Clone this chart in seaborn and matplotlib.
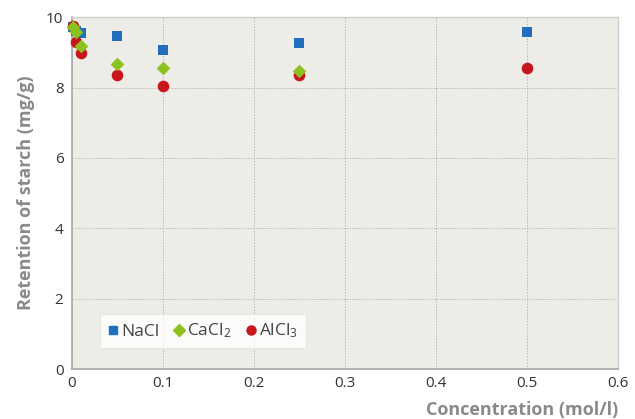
import numpy as np
import pandas as pd
import matplotlib
matplotlib.use("Agg")
import matplotlib.pyplot as plt
import seaborn as sns
from matplotlib.lines import Line2D

conc = [0.001, 0.005, 0.01, 0.05, 0.1, 0.25, 0.5]
nacl = [9.72, 9.62, 9.55, 9.47, 9.08, 9.28, 9.58]
cacl2 = [9.72, 9.58, 9.18, 8.66, 8.55, 8.47, np.nan]
alcl3 = [9.76, 9.29, 8.97, 8.36, 8.05, 8.36, 8.57]
series_names = ["NaCl", "CaCl2", "AlCl3"]
legend_labels = ["NaCl", r"CaCl$\mathregular{_2}$", r"AlCl$\mathregular{_3}$"]
xticks = [0, 0.1, 0.2, 0.3, 0.4, 0.5, 0.6]
xticklabels = ["0", "0.1", "0.2", "0.3", "0.4", "0.5", "0.6"]
yticks = [0, 2, 4, 6, 8, 10]

colors = {"NaCl": "#1f6fbd", "CaCl2": "#8cc21f", "AlCl3": "#c8161d"}
markers = {"NaCl": "s", "CaCl2": "D", "AlCl3": "o"}
sizes = {"NaCl": 55, "CaCl2": 48, "AlCl3": 70}

df = pd.DataFrame({
    "conc": conc * 3,
    "value": nacl + cacl2 + alcl3,
    "salt": ["NaCl"] * len(conc) + ["CaCl2"] * len(conc) + ["AlCl3"] * len(conc),
})

sns.set_theme(style="white")
plt.rcParams["font.family"] = ["Open Sans", "DejaVu Sans"]

fig = plt.figure(figsize=(6.35, 4.19), dpi=100)
ax = fig.add_axes([0.113, 0.119, 0.86, 0.84])
ax.set_facecolor("#eeece7")

for name in ["NaCl", "AlCl3", "CaCl2"]:
    sub = df[df["salt"] == name].dropna()
    sns.scatterplot(data=sub, x="conc", y="value", ax=ax, color=colors[name],
                    marker=markers[name], s=sizes[name], linewidth=0,
                    clip_on=False, zorder=3, legend=False)

ax.set_xlim(0, 0.6)
ax.set_ylim(0, 10)
ax.set_xticks(xticks)
ax.set_xticklabels(xticklabels)
ax.set_yticks(yticks)
ax.grid(True, color="#b8b8b8", linestyle=(0, (1.5, 1.5)), linewidth=0.7)
ax.set_axisbelow(True)
for s in ["left", "bottom"]:
    ax.spines[s].set_color("#a8a8a8")
    ax.spines[s].set_linewidth(1.2)
for s in ["top", "right"]:
    ax.spines[s].set_color("#cfcfcf")
    ax.spines[s].set_linewidth(1.0)
ax.tick_params(axis="both", colors="#a8a8a8", labelcolor="#333333",
               labelsize=11, length=3, direction="out", width=1)
ax.tick_params(axis="x", pad=2)
ax.tick_params(axis="y", pad=3)

ax.set_xlabel("Concentration (mol/l)", fontsize=13, color="#8a8a8a",
              fontweight="bold")
ax.xaxis.set_label_coords(1.0, -0.115)
ax.xaxis.label.set_horizontalalignment("right")
ax.xaxis.label.set_verticalalignment("center")
ax.set_ylabel("Retention of starch (mg/g)", fontsize=13, color="#8a8a8a",
              fontweight="bold", labelpad=8)

handles = [Line2D([], [], linestyle="none", marker=markers[n], color=colors[n],
                  markersize=ms) for n, ms in zip(series_names, [6, 6, 6.5])]
leg = ax.legend(handles, legend_labels, loc="lower left",
                bbox_to_anchor=(0.035, 0.035), ncol=3, frameon=True,
                fontsize=12.5, handlelength=0.6, handletextpad=0.2,
                columnspacing=0.8, borderpad=0.45, fancybox=False,
                shadow=False, labelcolor="#444444")
leg.get_frame().set_facecolor("white")
leg.get_frame().set_edgecolor("#e4e4e4")
leg.get_frame().set_linewidth(0.8)

fig.savefig("out.png", dpi=100)
